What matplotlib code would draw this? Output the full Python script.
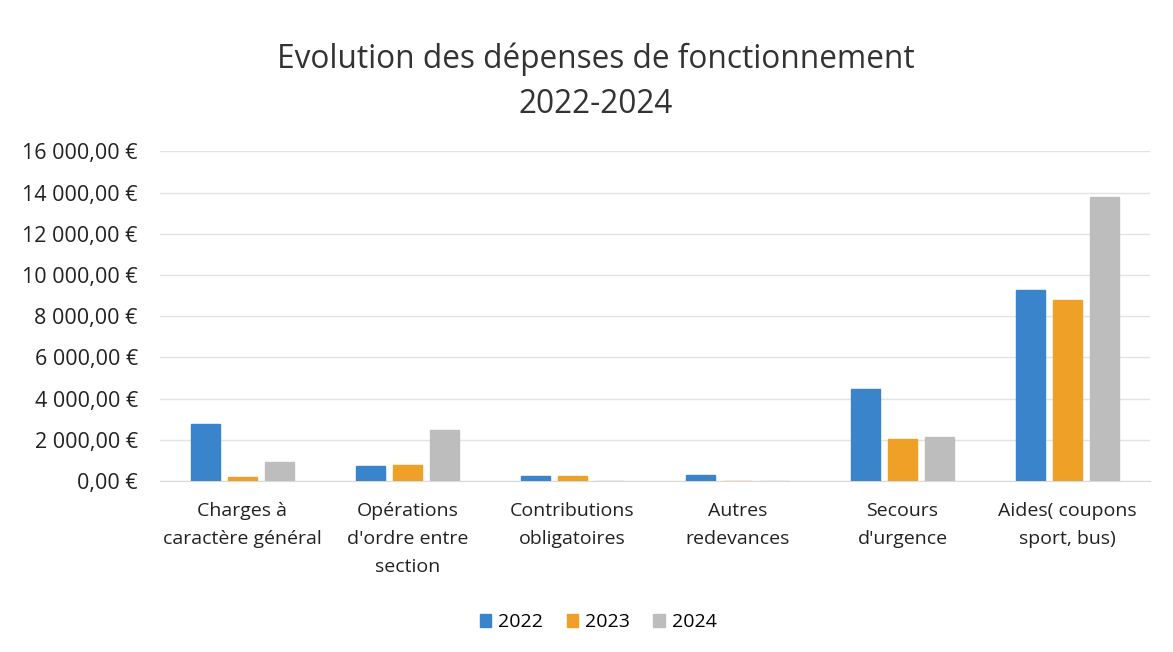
import numpy as np
import matplotlib
matplotlib.use("Agg")
import matplotlib.pyplot as plt
from matplotlib.ticker import FuncFormatter

plt.rcParams['font.family'] = ['Open Sans', 'DejaVu Sans']

# données
categories = ["Charges à\ncaractère général", "Opérations\nd'ordre entre\nsection",
              "Contributions\nobligatoires", "Autres\nredevances",
              "Secours\nd'urgence", "Aides( coupons\nsport, bus)"]
years = ["2022", "2023", "2024"]
val_2022 = [2750, 750, 250, 300, 4450, 9270]
val_2023 = [180, 780, 250, 0, 2030, 8790]
val_2024 = [930, 2490, 0, 0, 2150, 13780]
colors = ["#3A84CB", "#EEA126", "#BDBDBD"]

def euro(v, pos):
    s = "{:,.2f}".format(v).replace(",", " ").replace(".", ",")
    return s + " €"

fig = plt.figure(figsize=(11.73, 6.52), dpi=100)
ax = fig.add_axes([0.1364, 0.262, 0.844, 0.506])

x = np.arange(len(categories))
w = 0.177
step = 0.225
for i, (vals, yr) in enumerate(zip([val_2022, val_2023, val_2024], years)):
    ax.bar(x + (i - 1) * step, vals, width=w, color=colors[i], label=yr,
           edgecolor=colors[i], zorder=3)

ax.set_ylim(0, 16000)
ax.set_yticks(np.arange(0, 16001, 2000))
ax.yaxis.set_major_formatter(FuncFormatter(euro))
ax.set_xlim(-0.5, len(categories) - 0.5)
ax.set_xticks(x)
ax.set_xticklabels(categories, fontsize=14, color="#222222", linespacing=1.72, va="top")
ax.tick_params(axis="y", labelsize=15.5, colors="#222222", length=0, pad=16)
ax.tick_params(axis="x", length=0, pad=15)
ax.grid(axis="y", color="#E3E3E3", linewidth=1, zorder=0)
for s in ["top", "right", "left"]:
    ax.spines[s].set_visible(False)
ax.spines["bottom"].set_color("#D9D9D9")

fig.suptitle("Evolution des dépenses de fonctionnement\n2022-2024", fontsize=22.8,
             color="#333333", x=0.508, y=0.935, linespacing=1.5)

fig.legend(loc="lower center", bbox_to_anchor=(0.51, 0.005), ncol=3, frameon=False,
           fontsize=14, handlelength=0.6, handleheight=0.6, columnspacing=1.2,
           handletextpad=0.35)

fig.savefig("out.png", dpi=100)
